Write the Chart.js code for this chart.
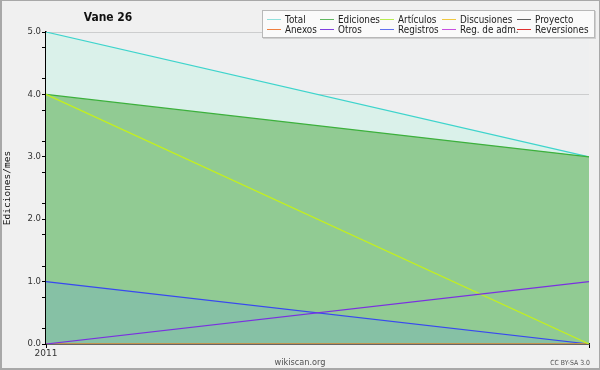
<!DOCTYPE html>
<html>
<head>
<meta charset="utf-8">
<script src="https://cdn.jsdelivr.net/npm/chart.js@4"></script>
<style>
  html, body { margin: 0; padding: 0; background: #f0f0f0; }
  #wrap { width: 600px; height: 370px; position: relative; }
</style>
</head>
<body>
<div id="wrap"><canvas id="c" width="600" height="370"></canvas></div>
<script>
// ---- data ----
const categories = ['2011', ''];
const seriesNames = ['Total', 'Ediciones', 'Artículos', 'Discusiones', 'Proyecto',
                     'Anexos', 'Otros', 'Registros', 'Reg. de adm.', 'Reversiones'];
const totalValues       = [5, 3];
const edicionesValues   = [4, 3];
const articulosValues   = [4, 0];
const discusionesValues = [0, 0];
const proyectoValues    = [0, 0];
const anexosValues      = [0, 0];
const otrosValues       = [0, 1];
const registrosValues   = [1, 0];
const regAdmValues      = [0, 0];
const reversionesValues = [0, 0];
const yTickValues = [0, 1, 2, 3, 4, 5];

const chartTitle = 'Vane 26';
const yAxisTitle = 'Ediciones/mes';

// ---- styles ----
const seriesValues = [totalValues, edicionesValues, articulosValues, discusionesValues, proyectoValues,
                      anexosValues, otrosValues, registrosValues, regAdmValues, reversionesValues];
const lineColors = ['#3ed4cc', '#3cb03c', '#c4f01c', '#f0c840', '#505050',
                    '#f07830', '#7a30e0', '#3848f0', '#c040e0', '#e02828'];
const legendColors = ['#90e0dc', '#60b860', '#b8ec50', '#f0c840', '#606060',
                      '#f08040', '#8040e0', '#6070f0', '#c850e0', '#e03030'];
const fillColors = ['#daf1ea', '#91cb93', null, null, null, null, null, '#86c1a5', null, null];
const drawOrder = [10, 9, 2, 3, 3, 3, 1, 8, 3, 3];
const legendColumnsX = [267, 320, 380, 442, 517];

const FONT = '"DejaVu Sans", sans-serif';

const datasets = seriesNames.map((name, i) => ({
  label: name,
  data: seriesValues[i],
  borderColor: lineColors[i],
  backgroundColor: fillColors[i] || 'transparent',
  fill: fillColors[i] ? 'origin' : false,
  borderWidth: 1.2,
  pointRadius: 0,
  tension: 0,
  order: drawOrder[i]
}));

// draw text horizontally condensed so its width matches a condensed face
function condensedText(ctx, text, x, y, align, factor) {
  ctx.save();
  ctx.translate(x, y);
  ctx.scale(factor, 1);
  ctx.textAlign = align;
  ctx.fillText(text, 0, 0);
  ctx.restore();
}

const decor = {
  id: 'decor',
  beforeDraw(chart) {
    const ctx = chart.ctx;
    ctx.save();
    ctx.fillStyle = '#f0f0f0';
    ctx.fillRect(0, 0, chart.width, chart.height);
    const a = chart.chartArea;
    ctx.fillStyle = '#eeeff0';
    ctx.fillRect(a.left, a.top, a.right - a.left, a.bottom - a.top);
    ctx.restore();
  },
  afterDraw(chart) {
    const ctx = chart.ctx;
    ctx.save();
    // outer border
    ctx.fillStyle = '#a8a8a8';
    ctx.fillRect(0, 0, chart.width, 1);
    ctx.fillRect(0, 0, 2, chart.height);
    ctx.fillRect(0, chart.height - 2, chart.width, 2);
    ctx.fillRect(chart.width - 1, 0, 1, chart.height);

    // title
    ctx.fillStyle = '#111';
    ctx.font = 'bold 12.5px ' + FONT;
    ctx.textBaseline = 'alphabetic';
    condensedText(ctx, chartTitle, 108, 21, 'center', 0.86);

    // legend
    const bx = 262, by = 10, bw = 333, bh = 28;
    ctx.fillStyle = '#d0d0d0';
    ctx.fillRect(bx + 1, by + 1, bw, bh);
    ctx.fillStyle = '#fafafa';
    ctx.fillRect(bx, by, bw, bh);
    ctx.strokeStyle = '#b8b8b8';
    ctx.lineWidth = 1;
    ctx.strokeRect(bx + 0.5, by + 0.5, bw - 1, bh - 1);

    ctx.font = '10.5px ' + FONT;
    ctx.textBaseline = 'middle';
    const cols = legendColumnsX.length;
    for (let c = 0; c < cols; c++) {
      const x = legendColumnsX[c];
      for (let r = 0; r < 2; r++) {
        const i = r * cols + c;
        if (i >= seriesNames.length) continue;
        const y = by + 9 + r * 10;
        ctx.strokeStyle = legendColors[i];
        ctx.lineWidth = 1;
        ctx.beginPath();
        ctx.moveTo(x, Math.round(y) + 0.5);
        ctx.lineTo(x + 14, Math.round(y) + 0.5);
        ctx.stroke();
        ctx.fillStyle = '#222';
        condensedText(ctx, seriesNames[i], x + 18, y + 1, 'left', 0.84);
      }
    }

    // footer texts
    ctx.fillStyle = '#505050';
    ctx.font = '9.5px ' + FONT;
    ctx.textBaseline = 'alphabetic';
    condensedText(ctx, 'wikiscan.org', 300, 365, 'center', 0.86);
    ctx.font = '7px ' + FONT;
    condensedText(ctx, 'CC BY-SA 3.0', 590, 365, 'right', 0.88);
    ctx.restore();
  }
};

new Chart(document.getElementById('c'), {
  type: 'line',
  data: { labels: categories, datasets },
  plugins: [decor],
  options: {
    responsive: false,
    animation: false,
    devicePixelRatio: 1,
    layout: { padding: { top: 32, right: 11, left: 0, bottom: 0 } },
    plugins: {
      legend: { display: false },
      title: { display: false },
      tooltip: { enabled: false }
    },
    scales: {
      x: {
        type: 'category',
        offset: false,
        z: 2,
        afterFit(scale) { scale.height = 26; },
        grid: { drawOnChartArea: false, tickLength: 4, color: '#000' },
        border: { color: '#000', width: 1.5 },
        ticks: {
          autoSkip: false, maxRotation: 0, padding: 0,
          color: '#333', font: { family: FONT, size: 9 }
        }
      },
      y: {
        min: 0, max: 5,
        z: 1,
        afterFit(scale) { scale.width = 46; },
        afterBuildTicks(scale) {
          const t = [];
          for (let v = yTickValues[0]; v <= yTickValues[yTickValues.length - 1]; v += 0.25) t.push({ value: v });
          scale.ticks = t;
        },
        title: {
          display: true, text: yAxisTitle, color: '#111',
          font: { family: '"DejaVu Sans Mono", monospace', size: 9.5 },
          padding: { top: 2, bottom: 0 }
        },
        grid: {
          tickLength: 4,
          lineWidth: 1,
          color: (c) => (c.tick && yTickValues.includes(c.tick.value)) ? 'rgba(0,0,0,0.14)' : 'rgba(0,0,0,0)',
          tickColor: (c) => (c.tick && Math.abs(c.tick.value % 1 - 0.5) < 1e-9) ? 'rgba(0,0,0,0)' : '#000'
        },
        border: { color: '#000', width: 1.5 },
        ticks: {
          autoSkip: false, padding: 1,
          color: '#333', font: { family: FONT, size: 8.5 },
          callback: (v) => yTickValues.includes(v) ? v.toFixed(1) : ''
        }
      }
    }
  }
});
</script>
</body>
</html>
